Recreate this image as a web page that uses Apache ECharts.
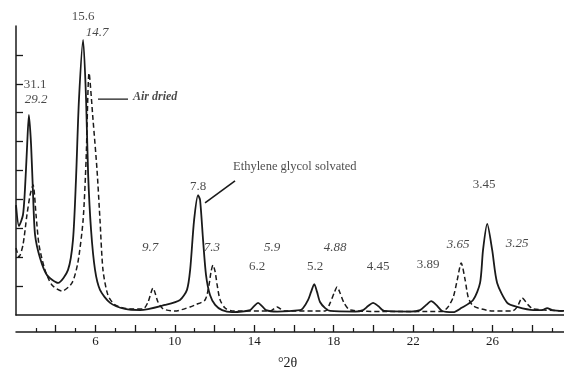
<!DOCTYPE html>
<html><head><meta charset="utf-8">
<script src="https://cdn.jsdelivr.net/npm/echarts@6/dist/echarts.min.js"></script>
<style>html,body{margin:0;padding:0;background:#fff}#c{width:564px;height:368px}</style>
</head><body><div id="c"></div>
<script>
// x-axis tick labels (degrees 2-theta)
const xTickLabels = [6, 10, 14, 18, 22, 26];
const xMajorTicks = [4, 6, 8, 10, 12, 14, 16, 18, 20, 22, 24, 26, 28];
const yTicks = [1, 2, 3, 4, 5, 6, 7, 8, 9];

// Ethylene glycol solvated (solid)
const glycolX = [2.00,2.15,2.35,2.45,2.55,2.65,2.76,2.86,2.96,3.21,3.56,4.12,4.62,4.87,5.02,5.17,5.38,5.53,5.63,5.78,5.98,6.23,6.74,7.49,8.25,9.51,10.26,10.61,10.77,10.97,11.17,11.27,11.42,11.57,11.77,12.03,12.38,12.88,13.79,13.99,14.19,14.39,14.59,15.15,16.31,16.46,16.71,16.86,17.02,17.16,17.31,17.57,17.82,19.08,19.48,19.73,19.98,20.24,20.54,21.85,22.35,22.66,22.91,23.16,23.46,24.02,24.42,25.02,25.37,25.52,25.73,25.98,26.23,26.74,27.24,28.05,28.50,28.75,29.00,29.61];
const glycolY = [3.80,3.08,3.46,4.33,5.71,6.92,5.88,4.15,2.77,1.97,1.38,1.11,1.56,2.60,4.67,7.44,9.52,7.44,4.91,2.94,1.56,0.87,0.42,0.21,0.17,0.35,0.52,0.87,1.56,3.29,4.15,3.98,2.60,1.38,0.69,0.35,0.17,0.10,0.17,0.31,0.42,0.31,0.17,0.12,0.17,0.24,0.52,0.80,1.07,0.80,0.45,0.24,0.14,0.12,0.17,0.31,0.42,0.31,0.14,0.12,0.17,0.35,0.48,0.35,0.14,0.10,0.24,0.52,1.11,2.25,3.15,2.25,1.11,0.42,0.28,0.17,0.17,0.24,0.17,0.14];

// Air dried (dashed)
const airX = [2.00,2.15,2.35,2.55,2.71,2.86,3.01,3.16,3.46,3.81,4.32,4.82,5.12,5.38,5.53,5.68,5.88,6.08,6.23,6.38,6.63,6.99,7.74,8.40,8.65,8.90,9.15,9.41,10.01,10.77,11.02,11.52,11.72,11.82,11.92,12.03,12.13,12.28,12.53,12.88,14.80,15.15,15.50,17.57,17.82,18.02,18.17,18.32,18.52,18.83,20.50,23.46,23.76,24.02,24.22,24.42,24.62,24.77,24.97,25.27,26.00,27.00,27.24,27.49,27.79,28.05,29.61];
const airY = [2.32,2.01,2.42,3.46,4.15,4.50,3.46,2.42,1.56,1.04,0.83,1.11,1.83,3.29,5.36,8.37,6.75,5.02,3.29,1.56,0.69,0.35,0.21,0.21,0.45,0.93,0.45,0.21,0.14,0.28,0.35,0.52,1.04,1.49,1.73,1.49,1.04,0.52,0.24,0.14,0.14,0.28,0.14,0.14,0.42,0.76,0.97,0.76,0.42,0.17,0.12,0.12,0.28,0.62,1.21,1.80,1.21,0.62,0.35,0.24,0.14,0.14,0.28,0.59,0.35,0.21,0.14];

// d-spacing annotations
const peakLabels = ['15.6','14.7','31.1','29.2','7.8','9.7','7.3','6.2','5.9','5.2','4.88','4.45','3.89','3.65','3.45','3.25'];
const peakLabelX = [5.375,6.08,2.96,3.01,11.17,8.75,11.87,14.14,14.90,17.06,18.07,20.24,22.76,24.27,25.58,27.24];
const peakLabelY = [10.31,9.76,7.99,7.44,4.46,2.32,2.35,1.66,2.35,1.66,2.35,1.66,1.76,2.42,4.53,2.46];
const italicLabels = ['14.7','29.2','9.7','7.3','5.9','4.88','3.65','3.25'];

// curve names and leader lines
const curveNames = ['Air dried', 'Ethylene glycol solvated'];
const curveNameX = [7.89, 12.93];
const curveNameY = [7.54, 5.12];
const airLeaderX = [6.13, 7.64];
const airLeaderY = [7.47, 7.47];
const glycolLeaderX = [11.52, 13.03];
const glycolLeaderY = [3.88, 4.64];

const FONT = 'Liberation Serif';
const INK = '#1a1a1a';
const zip = (xs, ys) => xs.map((x, i) => [x, ys[i]]);

const chart = echarts.init(document.getElementById('c'), null, {renderer: 'canvas'});
chart.setOption({
  backgroundColor: '#ffffff',
  animation: false,
  grid: {left: 16, right: -8, top: 26, bottom: 53, outerBoundsMode: 'none', containLabel: false},
  xAxis: [{
    type: 'value', min: 2, max: 30, interval: 2, position: 'bottom',
    axisLine: {show: true, lineStyle: {color: INK, width: 1.5}},
    axisTick: {show: false}, axisLabel: {show: false}, splitLine: {show: false}
  }, {
    type: 'value', min: 2, max: 30, interval: 2, position: 'bottom', offset: 17,
    axisLine: {show: true, lineStyle: {color: INK, width: 1.5}},
    axisTick: {show: true, inside: true, length: 7, customValues: xMajorTicks, lineStyle: {color: INK, width: 1.3}},
    minorTick: {show: true, splitNumber: 2, length: 4, lineStyle: {color: INK, width: 1.2}},
    axisLabel: {show: true, customValues: xTickLabels, margin: 3, fontFamily: FONT, fontSize: 13, color: INK},
    splitLine: {show: false}
  }],
  yAxis: {
    type: 'value', min: 0, max: 10, interval: 1,
    axisLine: {show: true, lineStyle: {color: INK, width: 1.5}},
    axisTick: {show: true, inside: true, length: 7, customValues: yTicks, lineStyle: {color: INK, width: 1.3}},
    axisLabel: {show: false}, splitLine: {show: false}
  },
  graphic: [{
    type: 'text', left: 278, top: 356,
    style: {text: '°2θ', font: '14px "Liberation Serif"', fill: INK, textAlign: 'center', textVerticalAlign: 'middle'}
  }],
  series: [{
    name: 'Air dried', type: 'line', data: zip(airX, airY), showSymbol: false, smooth: 0.25,
    lineStyle: {color: INK, width: 1.5, type: [5, 3]}, z: 2
  }, {
    name: 'Ethylene glycol solvated', type: 'line', data: zip(glycolX, glycolY), showSymbol: false, smooth: 0.25,
    lineStyle: {color: INK, width: 1.8}, z: 3
  }, {
    type: 'line', data: zip(airLeaderX, airLeaderY), showSymbol: false,
    lineStyle: {color: INK, width: 1.3}
  }, {
    type: 'line', data: zip(glycolLeaderX, glycolLeaderY), showSymbol: false,
    lineStyle: {color: INK, width: 1.6}
  }, {
    type: 'scatter', symbolSize: 0, clip: false, silent: true,
    data: peakLabels.map((t, i) => ({
      value: [peakLabelX[i], peakLabelY[i]], name: t,
      label: {fontStyle: italicLabels.includes(t) ? 'italic' : 'normal'}
    })),
    label: {show: true, formatter: p => p.name, position: [0, 0], align: 'center', verticalAlign: 'middle',
      fontFamily: FONT, fontSize: 13, color: INK}
  }, {
    type: 'scatter', symbolSize: 0, clip: false, silent: true,
    data: curveNames.map((t, i) => ({
      value: [curveNameX[i], curveNameY[i]], name: t,
      label: i === 0 ? {fontStyle: 'italic', fontWeight: 'bold', fontSize: 12} : {fontSize: 12.5}
    })),
    label: {show: true, formatter: p => p.name, position: [0, 0], align: 'left', verticalAlign: 'middle',
      fontFamily: FONT, color: INK}
  }]
});
</script></body></html>
